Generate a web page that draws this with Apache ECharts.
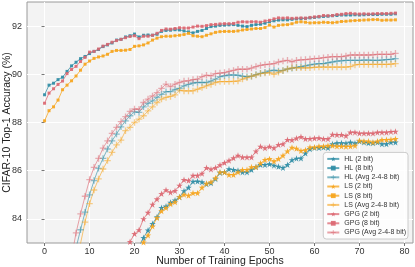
<!DOCTYPE html>
<html>
<head>
<meta charset="utf-8">
<script src="https://cdn.jsdelivr.net/npm/echarts@6/dist/echarts.min.js"></script>
<style>
html,body{margin:0;padding:0;background:#fff;}
#chart{width:415px;height:267px;}
</style>
</head>
<body>
<div id="chart"></div>
<script>
const epochs = [0,1,2,3,4,5,6,7,8,9,10,11,12,13,14,15,16,17,18,19,20,21,22,23,24,25,26,27,28,29,30,31,32,33,34,35,36,37,38,39,40,41,42,43,44,45,46,47,48,49,50,51,52,53,54,55,56,57,58,59,60,61,62,63,64,65,66,67,68,69,70,71,72,73,74,75,76,77,78];
const xTicks = [0,10,20,30,40,50,60,70,80];
const yTicks = [84,86,88,90,92];

const hl2 = [60.0,64.0,67.0,69.5,71.5,73.0,74.5,75.8,76.8,77.7, 78.5,79.2,79.8,80.3,80.8,81.2,81.5,81.8,82.0,82.2, 82.50,82.85,83.22,83.53,83.80,84.08,84.46,84.52,84.68,84.77, 84.91,85.16,85.30,85.55,85.56,85.53,85.45,85.49,85.66,85.92, 85.94,86.07,86.04,86.01,85.94,85.94,86.04,86.15,86.25,86.25, 86.28,86.22,86.17,86.12,86.25,86.44,86.51,86.52,86.72,86.90, 86.95,86.95,86.97,86.95,87.11,87.15,87.15,87.14,87.18,87.14, 87.22,87.18,87.15,87.15,87.18,87.11,87.11,87.18,87.18];
const hl8 = [89.15,89.55,89.63,89.78,89.88,90.12,90.35,90.50,90.65,90.74, 90.86,90.95,91.03,91.15,91.22,91.30,91.42,91.45,91.55,91.60, 91.67,91.55,91.62,91.63,91.62,91.66,91.78,91.82,91.83,91.85, 91.84,91.80,91.76,91.72,91.78,91.82,91.90,91.98,92.00,92.03, 92.04,92.05,92.06,92.03,92.00,91.98,92.03,92.06,92.08,92.12, 92.18,92.22,92.25,92.26,92.26,92.28,92.30,92.31,92.32,92.34, 92.36,92.38,92.40,92.41,92.43,92.44,92.46,92.46,92.46,92.47, 92.46,92.47,92.48,92.48,92.48,92.49,92.49,92.49,92.51];
const hlAvg = [69.0,73.0,76.0,78.2,79.8,81.0,82.0,82.8,83.55,84.28, 85.00,85.59,86.10,86.51,86.90,87.24,87.52,87.82,88.07,88.28, 88.44,88.42,88.65,88.79,88.90,89.04,89.17,89.28,89.28,89.37, 89.42,89.52,89.58,89.64,89.66,89.66,89.66,89.72,89.80,89.90, 89.94,89.97,89.97,89.96,89.92,89.90,89.92,89.99,90.04,90.08, 90.14,90.17,90.14,90.16,90.22,90.25,90.29,90.32,90.35,90.39, 90.42,90.44,90.44,90.48,90.51,90.55,90.56,90.58,90.58,90.58, 90.58,90.59,90.59,90.58,90.58,90.59,90.61,90.62,90.65];
const ls2 = [59.0,63.0,66.0,68.5,70.5,72.0,73.5,74.8,75.8,76.7, 77.5,78.2,78.8,79.3,79.8,80.2,80.6,81.0,81.4,81.8, 82.20,82.65,83.03,83.32,83.69,84.05,84.33,84.46,84.62,84.70, 84.91,85.01,84.97,85.07,85.07,85.30,85.47,85.53,85.70,85.94, 85.94,85.83,85.83,85.94,86.04,86.04,86.15,86.15,86.31,86.45, 86.49,86.39,86.49,86.63,86.81,86.96,86.92,86.83,86.86,86.97, 86.97,87.01,87.01,87.04,87.04,87.01,87.01,87.00,87.01,87.04, 87.25,87.22,87.22,87.18,87.22,87.28,87.28,87.29,87.32];
const ls8 = [88.07,88.49,88.65,88.93,89.36,89.55,89.73,89.93,90.17,90.42, 90.55,90.66,90.72,90.76,90.83,90.95,90.99,90.99,91.00,91.03, 91.16,91.18,91.22,91.30,91.42,91.50,91.56,91.58,91.58,91.60, 91.62,91.65,91.70,91.60,91.58,91.56,91.62,91.68,91.74,91.77, 91.78,91.78,91.78,91.80,91.84,91.86,91.88,91.90,91.90,91.94, 92.04,91.96,92.03,92.05,92.06,92.10,92.16,92.18,92.16,92.13, 92.14,92.14,92.16,92.15,92.14,92.16,92.19,92.20,92.22,92.23, 92.24,92.25,92.26,92.27,92.27,92.24,92.25,92.25,92.26];
const lsAvg = [68.0,72.0,75.0,77.3,79.0,80.3,81.4,82.3,82.98,83.87, 84.63,85.20,85.66,86.07,86.42,86.76,87.07,87.27,87.66,87.80, 88.00,88.14,88.28,88.48,88.65,88.83,88.97,89.04,89.08,89.15, 89.34,89.31,89.31,89.31,89.38,89.45,89.52,89.58,89.66,89.70, 89.70,89.70,89.71,89.72,89.80,89.86,89.92,89.97,90.03,90.05, 90.07,90.00,90.08,90.15,90.22,90.27,90.27,90.27,90.27,90.27, 90.29,90.30,90.30,90.30,90.30,90.30,90.30,90.30,90.32,90.39, 90.41,90.41,90.41,90.41,90.41,90.41,90.41,90.42,90.44];
const gpg2 = [61.0,65.0,68.0,70.5,72.5,74.0,75.5,76.7,77.7,78.6, 79.4,80.0,80.6,81.1,81.5,81.8,82.1,82.3,82.50,83.05, 83.38,83.54,84.00,84.26,84.60,84.82,85.04,85.20,85.10,85.17, 85.39,85.62,85.59,85.80,85.80,85.88,86.12,86.06,86.12,86.24, 86.33,86.42,86.53,86.63,86.56,86.56,86.56,86.81,87.00,86.94, 87.00,86.94,87.08,87.11,87.28,87.27,87.35,87.41,87.32,87.33, 87.35,87.36,87.32,87.32,87.50,87.49,87.49,87.45,87.59,87.59, 87.55,87.55,87.55,87.55,87.59,87.59,87.59,87.62,87.63];
const gpg8 = [88.80,89.22,89.40,89.58,89.72,90.03,90.20,90.33,90.53,90.70, 90.92,90.95,91.05,91.17,91.24,91.33,91.40,91.45,91.52,91.57, 91.60,91.48,91.58,91.58,91.62,91.70,91.82,91.88,91.87,91.90, 91.93,91.92,91.92,91.96,92.00,91.99,92.02,92.06,92.07,92.09, 92.10,92.10,92.11,92.16,92.18,92.17,92.18,92.18,92.16,92.21, 92.24,92.30,92.34,92.33,92.34,92.32,92.33,92.34,92.33,92.36, 92.38,92.40,92.44,92.43,92.44,92.48,92.49,92.52,92.53,92.51, 92.50,92.51,92.50,92.51,92.52,92.52,92.52,92.53,92.54];
const gpgAvg = [70.0,74.0,77.0,79.0,80.5,81.5,82.4,83.42,84.21,84.94, 85.63,86.14,86.51,86.94,87.24,87.55,87.80,88.04,88.24,88.46, 88.56,88.55,88.83,88.97,89.10,89.24,89.42,89.59,89.49,89.59, 89.66,89.72,89.73,89.78,89.80,89.90,89.96,89.94,90.03,90.05, 90.07,90.12,90.16,90.21,90.21,90.21,90.26,90.32,90.37,90.40, 90.42,90.44,90.51,90.55,90.58,90.52,90.58,90.60,90.61,90.63, 90.65,90.66,90.69,90.71,90.73,90.73,90.73,90.76,90.80,90.80, 90.80,90.80,90.80,90.81,90.83,90.83,90.83,90.83,90.87];

const seriesNames = ['HL (2 bit)','HL (8 bit)','HL (Avg 2-4-8 bit)','LS (2 bit)','LS (8 bit)','LS (Avg 2-4-8 bit)','GPG (2 bit)','GPG (8 bit)','GPG (Avg 2-4-8 bit)'];
const seriesValues = [hl2, hl8, hlAvg, ls2, ls8, lsAvg, gpg2, gpg8, gpgAvg];

const COLORS = {HL:'#2e8ca4', LS:'#f6a41c', GPG:'#dc6670'};
const STAR = 'path://M10,0L12.25,6.91L19.51,6.91L13.63,11.18L15.88,18.09L10,13.82L4.12,18.09L6.37,11.18L0.49,6.91L7.75,6.91Z';
const PLUS = 'path://M4,0H6V4H10V6H6V10H4V6H0V4H4Z';
const FONT = 'Liberation Sans, Arial, sans-serif';

function styleFor(name){
  const fam = name.split(' ')[0];
  const color = COLORS[fam];
  if (name.indexOf('2 bit)')>=0 && name.indexOf('Avg')<0) return {color, symbol:STAR, size:6.5, opacity:0.9, lineOpacity:0.75};
  if (name.indexOf('8 bit)')>=0 && name.indexOf('Avg')<0) return {color, symbol:'rect', size:3, opacity:0.9, lineOpacity:0.75};
  return {color, symbol:PLUS, size:6.5, opacity:0.5, lineOpacity:0.6};
}

const series = seriesNames.map((name, k) => {
  const s = styleFor(name);
  return {
    name: name,
    type: 'line',
    data: epochs.map((e, i) => [e, seriesValues[k][i]]),
    symbol: s.symbol,
    symbolSize: s.size,
    showSymbol: true,
    showAllSymbol: true,
    clip: true,
    lineStyle: {color: s.color, width: 1, opacity: s.lineOpacity},
    itemStyle: {color: s.color, opacity: s.opacity},
    emphasis: {disabled: true},
    animation: false
  };
});

const chart = echarts.init(document.getElementById('chart'), null, {renderer:'canvas'});
chart.setOption({
  animation: false,
  backgroundColor: '#ffffff',
  textStyle: {fontFamily: FONT},
  grid: {left: 27, right: 2, top: 2, bottom: 24, show: true, backgroundColor: '#f3f3f3', borderColor: '#9a9a9a', borderWidth: 1, containLabel: false, outerBoundsMode: 'none'},
  xAxis: {
    type: 'value', min: -3.9, max: 81.9, minInterval: 10, maxInterval: 10,
    name: 'Number of Training Epochs', nameLocation: 'middle', nameGap: 13, nameMoveOverlap: false,
    nameTextStyle: {fontSize: 10.5, color: '#222', fontFamily: FONT},
    axisLine: {show: false},
    axisTick: {show: true, length: 3, lineStyle: {color: '#777'}, customValues: xTicks},
    axisLabel: {fontSize: 9, color: '#333', margin: 4, customValues: xTicks, fontFamily: FONT},
    splitLine: {show: true, lineStyle: {color: '#ffffff', width: 1}}
  },
  yAxis: {
    type: 'value', min: 83, max: 93, minInterval: 2, maxInterval: 2,
    name: 'CIFAR-10 Top-1 Accuracy (%)', nameLocation: 'middle', nameGap: 14, nameMoveOverlap: false,
    nameTextStyle: {fontSize: 10.5, color: '#222', fontFamily: FONT},
    axisLine: {show: false},
    axisTick: {show: true, length: 3, lineStyle: {color: '#777'}, customValues: yTicks},
    axisLabel: {fontSize: 9, color: '#333', margin: 5, customValues: yTicks, fontFamily: FONT},
    splitLine: {show: true, lineStyle: {color: '#ffffff', width: 1}}
  },
  legend: {
    orient: 'vertical', right: 7, bottom: 28,
    itemWidth: 12, itemHeight: 6, itemGap: 2.2,
    padding: [3, 2, 3, 3],
    backgroundColor: 'rgba(255,255,255,0.8)', borderColor: '#cccccc', borderWidth: 1, borderRadius: 3,
    textStyle: {fontSize: 7, color: '#333', fontFamily: FONT},
    data: seriesNames,
    selectedMode: false
  },
  series: series
});
</script>
</body>
</html>
